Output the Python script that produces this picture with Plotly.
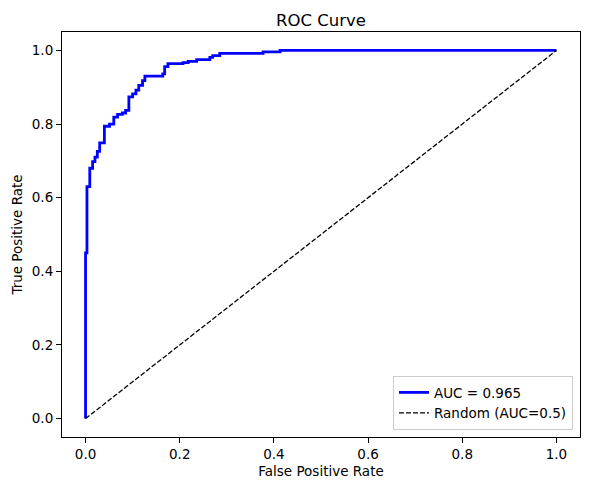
import plotly.graph_objs as go

# ROC points (step curve)
fpr = [0.0, 0.0, 0.003, 0.003, 0.009, 0.009, 0.015, 0.015, 0.02, 0.02, 0.025, 0.025,
       0.03, 0.03, 0.04, 0.04, 0.051, 0.051, 0.06, 0.06, 0.068, 0.068, 0.078, 0.078,
       0.085, 0.085, 0.092, 0.092, 0.1, 0.1, 0.107, 0.107, 0.113, 0.113, 0.121, 0.121,
       0.126, 0.126, 0.164, 0.164, 0.168, 0.168, 0.175, 0.175, 0.207, 0.207, 0.218, 0.218,
       0.236, 0.236, 0.264, 0.264, 0.27, 0.27, 0.285, 0.285, 0.377, 0.377, 0.413, 0.413, 1.0]
tpr = [0.0, 0.45, 0.45, 0.63, 0.63, 0.68, 0.68, 0.698, 0.698, 0.71, 0.71, 0.726,
       0.726, 0.749, 0.749, 0.794, 0.794, 0.8, 0.8, 0.819, 0.819, 0.826, 0.826, 0.83,
       0.83, 0.837, 0.837, 0.874, 0.874, 0.882, 0.882, 0.892, 0.892, 0.905, 0.905, 0.918,
       0.918, 0.93, 0.93, 0.936, 0.936, 0.956, 0.956, 0.964, 0.964, 0.967, 0.967, 0.97,
       0.97, 0.975, 0.975, 0.981, 0.981, 0.986, 0.986, 0.992, 0.992, 0.996, 0.996, 1.0, 1.0]
rand_x = [0, 1]
rand_y = [0, 1]
auc_label = "AUC = 0.965"
rand_label = "Random (AUC=0.5)"
tick_vals = [0.0, 0.2, 0.4, 0.6, 0.8, 1.0]
tick_text = ["0.0", "0.2", "0.4", "0.6", "0.8", "1.0"]

font_name = "DejaVu Sans"

data = [
    go.Scatter(x=fpr, y=tpr, mode="lines", name=auc_label,
               line=dict(color="blue", width=2.8)),
    go.Scatter(x=rand_x, y=rand_y, mode="lines", name=rand_label,
               line=dict(color="black", width=1.3, dash="5px,2px")),
]

axis_style = dict(
    showline=True, mirror=True, linecolor="black", linewidth=1.1,
    ticks="outside", ticklen=5, tickwidth=1.1, tickcolor="black",
    showgrid=False, zeroline=False, automargin=False,
    tickvals=tick_vals, ticktext=tick_text,
    tickfont=dict(family=font_name, size=13.5, color="black"),
)

# page body has an 8px margin, so the figure is a bit smaller than the window
layout = go.Layout(
    width=582, height=482,
    margin=dict(l=54, r=10, t=24, b=53),
    paper_bgcolor="white", plot_bgcolor="white",
    font=dict(family=font_name, color="black"),
    title=dict(text="ROC Curve", x=0.5, xref="paper", xanchor="center",
               y=1, yref="paper", yanchor="bottom", pad=dict(b=6), automargin=False,
               font=dict(family=font_name, size=16.5, color="black")),
    xaxis=dict(axis_style, range=[-0.05, 1.05],
               title=dict(text="False Positive Rate", standoff=5,
                          font=dict(family=font_name, size=13.5))),
    yaxis=dict(axis_style, range=[-0.05, 1.05],
               title=dict(text="True Positive Rate", standoff=6,
                          font=dict(family=font_name, size=13.5))),
    legend=dict(x=0.9865, y=0.017, xanchor="right", yanchor="bottom",
                bgcolor="rgba(255,255,255,0.8)", bordercolor="#cccccc", borderwidth=1,
                font=dict(family=font_name, size=13.5), tracegroupgap=0,
                itemwidth=30),
    showlegend=True,
)

fig = go.Figure(data=data, layout=layout)
fig.write_html("out.html")
